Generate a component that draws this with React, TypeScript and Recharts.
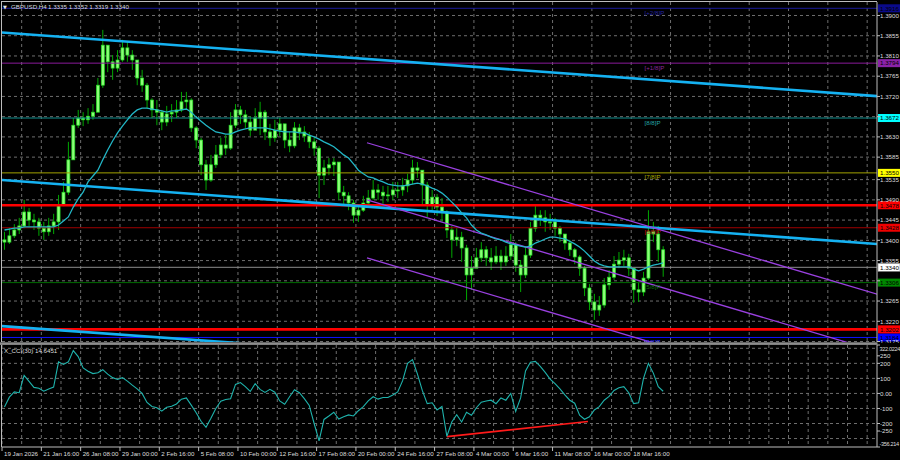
import React from 'react';
import {
  ComposedChart,
  LineChart,
  Line,
  Bar,
  XAxis,
  YAxis,
  CartesianGrid,
  ReferenceLine,
  ReferenceDot,
} from 'recharts';

// ---------------- data ----------------
const SYMBOL = 'GBPUSD,H4';
const lastBar = [1.3335, 1.3352, 1.3319, 1.334];
const cciName = 'X_CCI(30)';
const cciLast = 14.6451;

// candles (2 x H4 per slot), price in points (1e-4)
const firstOpen = 13401;
const closePts = [
  13396, 13410, 13423, 13432, 13463, 13445, 13441, 13427, 13419, 13432,
  13441, 13479, 13507, 13579, 13656, 13672, 13668, 13676, 13685, 13745,
  13834, 13797, 13783, 13801, 13828, 13812, 13801, 13761, 13745, 13712,
  13690, 13685, 13663, 13681, 13685, 13690, 13708, 13712, 13650, 13623,
  13568, 13534, 13568, 13590, 13612, 13605, 13656, 13690, 13679, 13663,
  13645, 13672, 13685, 13641, 13628, 13645, 13659, 13623, 13610, 13650,
  13641, 13632, 13619, 13605, 13545, 13561, 13568, 13574, 13507, 13499,
  13483, 13456, 13467, 13483, 13494, 13512, 13507, 13499, 13501, 13512,
  13512, 13521, 13534, 13561, 13556, 13523, 13479, 13496, 13474, 13463,
  13423, 13401, 13407, 13383, 13323, 13338, 13361, 13379, 13361, 13352,
  13365, 13352, 13365, 13390, 13345, 13323, 13367, 13427, 13456, 13450,
  13441, 13441, 13427, 13414, 13394, 13379, 13363, 13338, 13294, 13263,
  13245, 13256, 13301, 13318, 13347, 13356, 13361, 13338, 13290, 13285,
  13316, 13419, 13414, 13379, 13340,
];
const highPts = [
  13419, 13427, 13436, 13450, 13490, 13472, 13459, 13450, 13441, 13450,
  13459, 13501, 13530, 13619, 13672, 13690, 13685, 13694, 13703, 13761,
  13868, 13834, 13812, 13823, 13846, 13841, 13823, 13801, 13779, 13750,
  13716, 13712, 13690, 13699, 13703, 13712, 13730, 13730, 13716, 13654,
  13628, 13579, 13590, 13612, 13628, 13634, 13685, 13703, 13699, 13690,
  13676, 13694, 13708, 13690, 13659, 13668, 13672, 13659, 13641, 13663,
  13659, 13654, 13641, 13628, 13610, 13579, 13583, 13583, 13574, 13521,
  13507, 13490, 13479, 13499, 13512, 13534, 13525, 13521, 13521, 13530,
  13530, 13539, 13548, 13579, 13574, 13556, 13530, 13512, 13503, 13494,
  13467, 13432, 13427, 13419, 13390, 13365, 13383, 13396, 13387, 13383,
  13387, 13379, 13387, 13414, 13396, 13356, 13383, 13441, 13476, 13467,
  13467, 13459, 13450, 13432, 13414, 13401, 13383, 13367, 13343, 13303,
  13281, 13276, 13316, 13334, 13365, 13374, 13379, 13370, 13338, 13307,
  13330, 13467, 13441, 13432, 13387,
];
const lowPts = [
  13379, 13392, 13405, 13414, 13427, 13432, 13423, 13410, 13401, 13410,
  13414, 13423, 13476, 13501, 13579, 13650, 13654, 13659, 13668, 13685,
  13739, 13774, 13757, 13774, 13797, 13797, 13779, 13745, 13730, 13694,
  13672, 13656, 13645, 13654, 13663, 13672, 13685, 13690, 13641, 13605,
  13545, 13512, 13530, 13561, 13583, 13590, 13601, 13650, 13659, 13650,
  13632, 13645, 13634, 13623, 13610, 13619, 13632, 13605, 13596, 13605,
  13623, 13619, 13605, 13588, 13494, 13523, 13545, 13543, 13490, 13481,
  13467, 13439, 13441, 13463, 13476, 13490, 13490, 13481, 13485, 13490,
  13494, 13499, 13507, 13525, 13539, 13479, 13452, 13467, 13454, 13441,
  13405, 13361, 13387, 13352, 13267, 13290, 13338, 13352, 13343, 13334,
  13347, 13334, 13343, 13356, 13330, 13285, 13316, 13361, 13419, 13432,
  13419, 13423, 13410, 13396, 13379, 13365, 13347, 13321, 13276, 13245,
  13223, 13232, 13250, 13290, 13312, 13338, 13343, 13321, 13261, 13263,
  13276, 13312, 13396, 13352, 13319,
];
const maPts = [
  13423, 13425, 13427, 13427, 13430, 13430, 13430, 13430, 13430, 13430,
  13430, 13434, 13443, 13452, 13474, 13492, 13507, 13530, 13543, 13556,
  13579, 13601, 13621, 13639, 13654, 13668, 13681, 13690, 13694, 13694,
  13692, 13690, 13688, 13685, 13688, 13688, 13690, 13692, 13685, 13674,
  13665, 13656, 13648, 13641, 13639, 13636, 13636, 13641, 13645, 13648,
  13650, 13650, 13650, 13650, 13648, 13645, 13643, 13641, 13641, 13641,
  13639, 13639, 13634, 13630, 13625, 13619, 13614, 13608, 13599, 13590,
  13583, 13570, 13556, 13548, 13541, 13539, 13534, 13530, 13525, 13523,
  13521, 13521, 13523, 13525, 13527, 13525, 13521, 13516, 13512, 13505,
  13496, 13485, 13474, 13461, 13450, 13434, 13423, 13416, 13412, 13407,
  13403, 13401, 13396, 13392, 13390, 13387, 13385, 13387, 13394, 13398,
  13403, 13407, 13407, 13405, 13403, 13398, 13392, 13385, 13376, 13365,
  13354, 13347, 13343, 13341, 13341, 13341, 13341, 13341, 13336, 13332,
  13336, 13341, 13345, 13347, 13350,
];
const cciVals = [
  -90, -25, 10, 5, 120, 80, 40, 35, 15, 30,
  42, 210, 193, 210, 285, 245, 170, 147, 132, 138,
  158, 128, 105, 93, 105, 82, 55, 30, 0, -60,
  -87, -95, -118, -92, -85, -70, -38, -30, -78, -128,
  -185, -225, -165, -100, -52, -40, -35, 60, 72, 45,
  13, 65, 27, 7, 27, 8, -50, -72, -22, 25,
  5, -35, -80, -200, -315, -173, -150, -125, -170, -155,
  -143, -150, -115, -88, -50, -22, -38, -27, -27, -10,
  10, 85, 200, 225, 130, 20, -68, -62, -110, -87,
  -285, -190, -142, -190, -125, -145, -95, -58, -50, -45,
  -68, -30, -45, 0, -120, -30, 150, 207, 213, 180,
  140, 95, 65, 30, -10, -45, -65, -145, -172, -155,
  -110, -88, -45, -20, 20, 38, 45, 5, -68, -62,
  100, 200, 135, 45, 14.6451,
];

const xLabels = [
  '19 Jan 2026', '21 Jan 16:00', '26 Jan 08:00', '29 Jan 00:00', '2 Feb 16:00',
  '5 Feb 08:00', '10 Feb 00:00', '12 Feb 16:00', '17 Feb 08:00', '20 Feb 00:00',
  '24 Feb 16:00', '27 Feb 08:00', '4 Mar 00:00', '6 Mar 16:00', '11 Mar 08:00',
  '16 Mar 00:00', '18 Mar 16:00',
];
const xLabelSlots = [0, 8, 16, 24, 32, 40, 48, 56, 64, 72, 80, 88, 96, 104, 112, 120, 128];
const gridSlots = [
  0, 4, 8, 12, 16, 20, 24, 28, 32, 36, 40, 44, 48, 52, 56, 60, 64, 68, 72, 76, 80, 84, 88,
  92, 96, 100, 104, 108, 112, 116, 120, 124, 128, 132, 136, 140, 144, 148, 152, 156, 160,
  164, 168, 172, 176,
];

const priceTicks = [
  1.39, 1.3855, 1.381, 1.3765, 1.372, 1.3675, 1.363, 1.3585, 1.3535, 1.349, 1.3445, 1.34,
  1.3355, 1.331, 1.3265, 1.322, 1.3175,
];
const hiddenPriceTicks = ['1.3675', '1.3310'];
const priceDomain = [1.31739, 1.393];

const cciTicks = [322.0224, 250, 200, 100, 0, -100, -200, -250, -356.214];
const cciTickText = ['322.0224', '250', '200', '100', '0.00', '-100', '-200', '-250', '-356.214'];
const cciGrid = [300, 200, 100, 0, -100, -200, -300];
const cciDomain = [-356.214, 322.0224];

// Murrey math levels
const murreyLevels = [1.3916, 1.3794, 1.3672, 1.355, 1.3428, 1.3306, 1.3184];
const murreyTags = ['[+2/8]P', '[+1/8]P', '[8/8]P', '[7/8]P', '[6/8]P', '[5/8]P', '[4/8]P'];
const murreyTagSlot = 130.7;
const redLevels = [1.3478, 1.3202];
const lastPrice = 1.334;

// trend lines: [slot, price] endpoints
const blueTrendFrom = [[-1, 1.3863], [-1, 1.3535], [-1, 1.321]];
const blueTrendTo = [[179, 1.372], [179, 1.3391], [179, 1.3069]];
const channelFrom = [[74.25, 1.3617], [74.25, 1.349], [74.25, 1.3361]];
const channelTo = [[179, 1.3277], [179, 1.315], [179, 1.3021]];
const cciDivFrom = [90.5, -287];
const cciDivTo = [119.2, -187];

// ---------------- styles ----------------
const FONT = 'Liberation Sans, Arial, sans-serif';
const TXT = '#dedede';
const FS = 6.2;
const GRID = '#6e6e6e';
const SLOTS = 178;
const murreyLineColors = ['#1a1a9a', '#8a1a9a', '#0f8f8f', '#a3a300', '#a00000', '#006a00', '#1010ff'];
const murreyBoxColors = ['#0a0a8a', '#8b22a8', '#00ffff', '#ffff00', '#f00000', '#008800', '#0000ff'];
const murreyTagColors = ['#2323a0', '#8a2a9a', '#25a5a5', '#a8a800', '#c01010', '#0e7a0e', '#2a2aff'];

const P = 10000;
const rows = Array.from({ length: SLOTS }, (_, i) => {
  if (i >= closePts.length) return { i };
  const o = (i === 0 ? firstOpen : closePts[i - 1]) / P;
  const h = highPts[i] / P;
  const l = lowPts[i] / P;
  return { i, o, h, l, c: closePts[i] / P, range: [l, h], ma: maPts[i] / P };
});
const cciRows = cciVals.map((v, i) => ({ u: i + 0.5, cci: v }));

const Candle = (props: any) => {
  const { x, y, width, height, payload } = props;
  if (!payload || payload.h == null) return <g />;
  const top0 = Math.min(y, y + height);
  const h0 = Math.abs(height);
  const span = payload.h - payload.l || 1e-9;
  const toY = (v: number) => top0 + ((payload.h - v) / span) * h0;
  const cx = x + width / 2;
  const yo = toY(payload.o);
  const yc = toY(payload.c);
  const bt = Math.min(yo, yc);
  const bh = Math.max(Math.abs(yo - yc), 1);
  return (
    <g>
      <line x1={cx} x2={cx} y1={top0} y2={top0 + h0} stroke="#00a800" strokeWidth={1} />
      <rect x={cx - 1.5} y={bt} width={3} height={bh} fill="#8cff78" stroke="#22dd22" strokeWidth={0.7} />
    </g>
  );
};

const PriceTick = (props: any) => {
  const { x, y, payload } = props;
  const s = Number(payload.value).toFixed(4);
  if (hiddenPriceTicks.includes(s)) return <g />;
  return (
    <text x={x} y={y + 2.3} fill={TXT} fontSize={FS} fontFamily={FONT} textAnchor="start">
      {s}
    </text>
  );
};

const CciTick = (props: any) => {
  const { x, y, payload } = props;
  const idx = cciTicks.indexOf(payload.value);
  const txt = idx >= 0 ? cciTickText[idx] : String(payload.value);
  let dy = 2.3;
  if (idx === 0) dy = 5.5;
  if (idx === cciTicks.length - 1) dy = -1.5;
  const long = txt.length > 6;
  return (
    <text
      x={x - (long ? 0.5 : 0)}
      y={y + dy}
      fill={TXT}
      fontSize={long ? 5.6 : FS}
      letterSpacing={long ? -0.35 : 0}
      fontFamily={FONT}
      textAnchor="start"
    >
      {txt}
    </text>
  );
};

const TimeTick = (props: any) => {
  const { x, y, payload } = props;
  const idx = xLabelSlots.indexOf(payload.value);
  return (
    <text x={x + 2} y={y + 5} fill={TXT} fontSize={FS} fontFamily={FONT} textAnchor="start">
      {idx >= 0 ? xLabels[idx] : ''}
    </text>
  );
};

const boxLabel = (text: string, fill: string, textColor: string, stroke?: string) => (props: any) => {
  const vb = props.viewBox || {};
  const bx = vb.x + vb.width + 1;
  const by = vb.y;
  return (
    <g>
      <rect x={bx} y={by - 4} width={22} height={8} fill={fill} stroke={stroke || 'none'} strokeWidth={0.6} />
      <text x={bx + 2} y={by + 2.3} fill={textColor} fontSize={FS} fontFamily={FONT}>
        {text}
      </text>
    </g>
  );
};

const tagShape = (text: string, color: string) => (props: any) => (
  <text x={props.cx} y={props.cy + 6.5} fill={color} fontSize={FS} fontFamily={FONT}>
    {text}
  </text>
);

export default function App() {
  return (
    <div
      style={{
        position: 'absolute',
        left: 0,
        top: 0,
        width: 900,
        height: 460,
        background: '#000',
        overflow: 'hidden',
      }}
    >
      <div style={{ position: 'absolute', left: 0, top: 0 }}>
        <ComposedChart width={900} height={343} data={rows} margin={{ top: 2, right: 0, bottom: 1, left: 2 }}>
          <XAxis xAxisId="c" dataKey="i" type="category" hide />
          <XAxis xAxisId="n" dataKey="u" type="number" domain={[0, SLOTS]} allowDataOverflow hide />
          <YAxis
            orientation="right"
            width={23}
            domain={priceDomain}
            allowDataOverflow
            ticks={priceTicks}
            interval={0}
            tick={<PriceTick />}
            tickSize={3}
            tickMargin={0}
            tickLine={{ stroke: '#bdbdbd' }}
            axisLine={{ stroke: '#bdbdbd' }}
          />
          <CartesianGrid
            xAxisId="n"
            stroke={GRID}
            strokeDasharray="3 3"
            verticalValues={gridSlots}
            horizontalValues={priceTicks}
          />
          {murreyLevels.map((v, k) => (
            <ReferenceLine
              key={'m' + k}
              xAxisId="n"
              y={v}
              stroke={murreyLineColors[k]}
              strokeWidth={1}
              label={boxLabel(v.toFixed(4), murreyBoxColors[k], '#000')}
            />
          ))}
          {redLevels.map((v, k) => (
            <ReferenceLine
              key={'r' + k}
              xAxisId="n"
              y={v}
              stroke="#ff0000"
              strokeWidth={2.6}
              label={boxLabel(v.toFixed(4), '#ff0000', '#000')}
            />
          ))}
          <ReferenceLine
            xAxisId="n"
            y={lastPrice}
            stroke="#8c8c8c"
            strokeWidth={1}
            label={boxLabel(lastPrice.toFixed(4), '#ffffff', '#000', '#8c8c8c')}
          />
          {blueTrendFrom.map((f, k) => (
            <ReferenceLine
              key={'b' + k}
              xAxisId="n"
              ifOverflow="hidden"
              segment={[
                { x: f[0], y: f[1] },
                { x: blueTrendTo[k][0], y: blueTrendTo[k][1] },
              ]}
              stroke="#15b2f2"
              strokeWidth={2.6}
            />
          ))}
          {channelFrom.map((f, k) => (
            <ReferenceLine
              key={'p' + k}
              xAxisId="n"
              ifOverflow="hidden"
              segment={[
                { x: f[0], y: f[1] },
                { x: channelTo[k][0], y: channelTo[k][1] },
              ]}
              stroke="#9a40e0"
              strokeWidth={1.3}
            />
          ))}
          <Bar xAxisId="c" dataKey="range" shape={Candle} isAnimationActive={false} />
          <Line
            xAxisId="c"
            dataKey="ma"
            stroke="#22b6c6"
            strokeWidth={1.3}
            dot={false}
            isAnimationActive={false}
          />
          {murreyLevels.map((v, k) => (
            <ReferenceDot
              key={'t' + k}
              xAxisId="n"
              x={murreyTagSlot}
              y={v}
              r={0}
              ifOverflow="visible"
              shape={tagShape(murreyTags[k], murreyTagColors[k])}
            />
          ))}
        </ComposedChart>
      </div>

      <div style={{ position: 'absolute', left: 0, top: 343 }}>
        <LineChart width={900} height={117} data={cciRows} margin={{ top: 2, right: 0, bottom: 0, left: 2 }}>
          <XAxis
            dataKey="u"
            type="number"
            domain={[0, SLOTS]}
            allowDataOverflow
            ticks={xLabelSlots}
            interval={0}
            height={13}
            tick={<TimeTick />}
            tickSize={4}
            tickMargin={0}
            tickLine={{ stroke: '#bdbdbd' }}
            axisLine={{ stroke: '#bdbdbd' }}
          />
          <YAxis
            orientation="right"
            width={23}
            domain={cciDomain}
            allowDataOverflow
            ticks={cciTicks}
            interval={0}
            tick={<CciTick />}
            tickSize={3}
            tickMargin={0}
            tickLine={{ stroke: '#bdbdbd' }}
            axisLine={{ stroke: '#bdbdbd' }}
          />
          <CartesianGrid stroke={GRID} strokeDasharray="3 3" verticalValues={gridSlots} horizontalValues={cciGrid} />
          <ReferenceLine
            ifOverflow="hidden"
            segment={[
              { x: cciDivFrom[0], y: cciDivFrom[1] },
              { x: cciDivTo[0], y: cciDivTo[1] },
            ]}
            stroke="#ff1a1a"
            strokeWidth={1.6}
          />
          <Line dataKey="cci" stroke="#1fb3ac" strokeWidth={1.1} dot={false} isAnimationActive={false} />
        </LineChart>
      </div>

      <svg
        width={900}
        height={460}
        style={{ position: 'absolute', left: 0, top: 0, pointerEvents: 'none' }}
      >
        <line x1={1.5} y1={1} x2={1.5} y2={342} stroke="#bdbdbd" strokeWidth={1} />
        <line x1={1} y1={1.5} x2={877} y2={1.5} stroke="#bdbdbd" strokeWidth={1} />
        <rect x={0} y={342.3} width={877.5} height={2.6} fill="#8d8d8d" />
        <line x1={1.5} y1={345} x2={1.5} y2={447} stroke="#bdbdbd" strokeWidth={1} />
        <text x={3} y={8.5} fill="#e6e6e6" fontSize={5} fontFamily="DejaVu Sans">
          ▼
        </text>
        <text x={11} y={8.7} fill={TXT} fontSize={FS} fontFamily={FONT}>
          {SYMBOL}
        </text>
        <text x={48} y={8.7} fill={TXT} fontSize={FS} fontFamily={FONT}>
          {lastBar.map((v) => v.toFixed(4)).join(' ')}
        </text>
        <text x={4} y={352.5} fill={TXT} fontSize={FS} fontFamily={FONT}>
          {cciName + ' ' + cciLast.toFixed(4)}
        </text>
      </svg>
    </div>
  );
}
